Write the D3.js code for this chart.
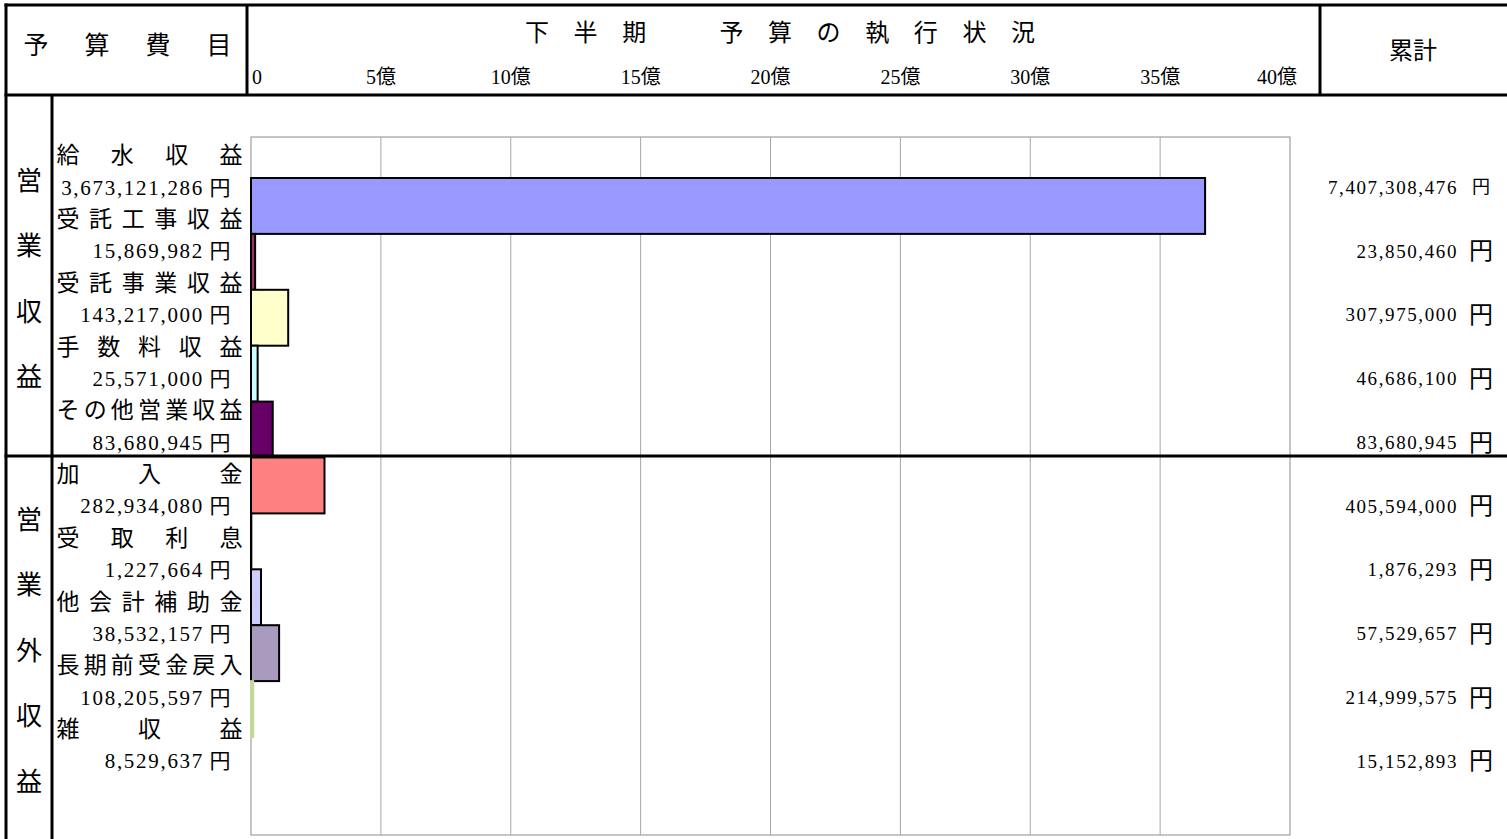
<!DOCTYPE html>
<html>
<head>
<meta charset="utf-8">
<script src="https://cdn.jsdelivr.net/npm/d3@7"></script>
<style>
  body { margin: 0; background: #fff; }
  svg text { font-family: "Liberation Serif", "Noto Sans CJK JP", serif; fill: #000; }
</style>
</head>
<body>
<div id="chart"></div>
<script>
// 予算費目 (category) and amounts in yen
var categories = ["給水収益", "受託工事収益", "受託事業収益", "手数料収益", "その他営業収益",
                  "加入金", "受取利息", "他会計補助金", "長期前受金戻入", "雑収益"];
var halfYear = [3673121286, 15869982, 143217000, 25571000, 83680945,
                282934080, 1227664, 38532157, 108205597, 8529637];
var cumulative = [7407308476, 23850460, 307975000, 46686100, 83680945,
                  405594000, 1876293, 57529657, 214999575, 15152893];
var sectionNames = ["営業収益", "営業外収益"];
var sectionSizes = [5, 5];
var tickValues = [0, 5e8, 10e8, 15e8, 20e8, 25e8, 30e8, 35e8, 40e8];
var barColors = ["#9999ff", "#993366", "#ffffcc", "#ccffff", "#660066",
                 "#ff8080", "#0066cc", "#ccccff", "#a99bbd", "#c3d69b"];

var W = 1507, H = 839;
var plot = {left: 251, right: 1290, top: 137, bottom: 835};

var svg = d3.select("#chart").append("svg")
    .attr("width", W)
    .attr("height", H);

// scales
var x = d3.scaleLinear().domain([0, 40e8]).range([plot.left, plot.right]);
var y = d3.scaleBand().domain(categories).range([178, 737]).padding(0);
var row = d3.scaleBand().domain(categories).range([139, 776.5]);
var color = d3.scaleOrdinal().domain(categories).range(barColors);
var fmt = d3.format(",");

// plot frame + gridlines
svg.append("rect")
    .attr("x", plot.left).attr("y", plot.top)
    .attr("width", plot.right - plot.left).attr("height", plot.bottom - plot.top)
    .attr("fill", "#fff").attr("stroke", "#8c8c8c").attr("stroke-width", 1);

svg.selectAll(".grid")
    .data(tickValues.slice(1, -1))
    .enter().append("line")
    .attr("class", "grid")
    .attr("x1", function (d) { return x(d); })
    .attr("x2", function (d) { return x(d); })
    .attr("y1", plot.top).attr("y2", plot.bottom)
    .attr("stroke", "#a6a6a6").attr("stroke-width", 1);

// bars
svg.selectAll(".bar")
    .data(categories)
    .enter().append("rect")
    .attr("class", "bar")
    .attr("x", x(0))
    .attr("y", function (d) { return y(d); })
    .attr("width", function (d, i) { return x(halfYear[i]) - x(0); })
    .attr("height", y.bandwidth())
    .attr("fill", function (d) { return color(d); })
    .attr("stroke", function (d, i) { return i === categories.length - 1 ? color(d) : "#000"; })
    .attr("stroke-width", 2);

// frame lines of the table
function hline(y0, x1, x2) {
    svg.append("line").attr("x1", x1).attr("x2", x2).attr("y1", y0).attr("y2", y0)
        .attr("stroke", "#000").attr("stroke-width", 3);
}
function vline(x0, y1, y2) {
    svg.append("line").attr("x1", x0).attr("x2", x0).attr("y1", y1).attr("y2", y2)
        .attr("stroke", "#000").attr("stroke-width", 3);
}
hline(5, 4.5, W);
hline(95, 4.5, W);
hline(456, 4.5, W);
vline(6, 3.5, H);
vline(52, 95, H);
vline(247, 5, 95);
vline(1320, 5, 95);

// header texts
var head1 = "予算費目".split("");
svg.selectAll(".head1")
    .data(head1)
    .enter().append("text")
    .attr("class", "head1")
    .attr("x", function (d, i) { return 36 + i * 61; })
    .attr("y", 45).attr("dy", "0.36em")
    .attr("text-anchor", "middle")
    .style("font-size", "25px")
    .text(function (d) { return d; });

var title = "下半期　予算の執行状況".split("");
svg.selectAll(".title")
    .data(title)
    .enter().append("text")
    .attr("class", "title")
    .attr("x", function (d, i) { return 537 + i * 48.6; })
    .attr("y", 32).attr("dy", "0.36em")
    .attr("text-anchor", "middle")
    .style("font-size", "24px")
    .text(function (d) { return d; });

svg.append("text")
    .attr("x", 1413).attr("y", 50).attr("dy", "0.36em")
    .attr("text-anchor", "middle")
    .style("font-size", "24px")
    .text("累計");

// axis labels in the header
svg.selectAll(".tick")
    .data(tickValues)
    .enter().append("text")
    .attr("class", "tick")
    .attr("x", function (d, i) {
        if (i === 0) return x(d) + 1;
        if (i === tickValues.length - 1) return x(d) + 7;
        return x(d);
    })
    .attr("y", 84)
    .attr("text-anchor", function (d, i) {
        if (i === 0) return "start";
        if (i === tickValues.length - 1) return "end";
        return "middle";
    })
    .style("font-size", "20px")
    .text(function (d) { return d === 0 ? "0" : (d / 1e8) + "億"; });

// section labels (vertical)
sectionNames.forEach(function (name, s) {
    var top = s === 0 ? 95 : 456;
    var bottom = s === 0 ? 456 : H;
    var mid = (top + bottom) / 2 + 3;
    var chars = name.split("");
    chars.forEach(function (c, i) {
        svg.append("text")
            .attr("x", 29)
            .attr("y", mid + (i - (chars.length - 1) / 2) * 65.5)
            .attr("dy", "0.36em")
            .attr("text-anchor", "middle")
            .style("font-size", "26px")
            .text(c);
    });
});

// category names, spread over the cell width
categories.forEach(function (c, i) {
    var chars = c.split("");
    var x1 = 68, x2 = 231;
    chars.forEach(function (ch, k) {
        svg.append("text")
            .attr("x", x1 + k * (x2 - x1) / (chars.length - 1))
            .attr("y", row(c) + 16)
            .attr("dy", "0.36em")
            .attr("text-anchor", "middle")
            .style("font-size", "23px")
            .text(ch);
    });
});

// half-year amounts under each name
var amt = svg.selectAll(".amt")
    .data(categories)
    .enter().append("g")
    .attr("class", "amt")
    .attr("transform", function (d) { return "translate(0," + (row(d) + 48) + ")"; });
amt.append("text")
    .attr("x", 204).attr("dy", "0.36em")
    .attr("text-anchor", "end")
    .style("font-size", "21px")
    .style("letter-spacing", "1.7px")
    .text(function (d, i) { return fmt(halfYear[i]); });
amt.append("text")
    .attr("x", 220).attr("dy", "0.36em")
    .attr("text-anchor", "middle")
    .style("font-size", "21px")
    .text("円");

// cumulative amounts on the right
var cum = svg.selectAll(".cum")
    .data(categories)
    .enter().append("g")
    .attr("class", "cum")
    .attr("transform", function (d) { return "translate(0," + (row(d) + 48) + ")"; });
cum.append("text")
    .attr("x", 1458).attr("dy", "0.36em")
    .attr("text-anchor", "end")
    .style("font-size", "19px")
    .style("letter-spacing", "1.6px")
    .text(function (d, i) { return fmt(cumulative[i]); });
cum.append("text")
    .attr("x", 1481).attr("dy", "0.36em")
    .attr("text-anchor", "middle")
    .style("font-size", function (d, i) { return i === 0 ? "18px" : "24px"; })
    .text("円");
</script>
</body>
</html>
